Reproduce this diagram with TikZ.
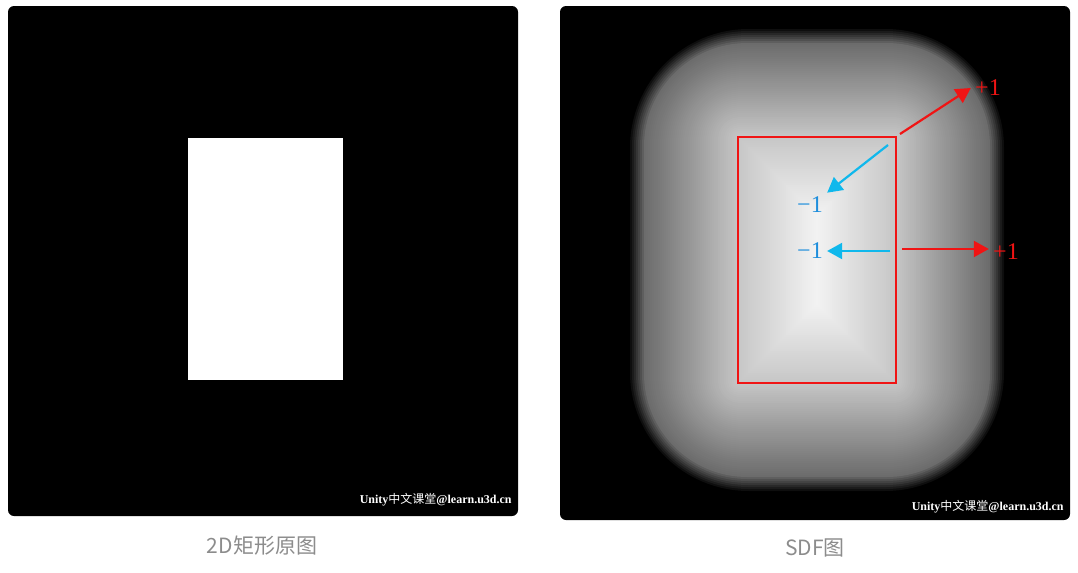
\documentclass[tikz,border=0pt]{standalone}
\usepackage{fontspec}
\setmainfont{Liberation Serif}
\newfontfamily\cjkserif{Noto Sans CJK SC}
\newfontfamily\captionfont{Noto Sans CJK SC}
\usepackage{tikz}
\usetikzlibrary{arrows.meta, positioning, calc}
\definecolor{sdfred}{HTML}{F01414}
\definecolor{sdfcyan}{HTML}{10B8EC}
\definecolor{sdfcyantext}{HTML}{1E8EDC}
\definecolor{capgray}{HTML}{8C8C8C}

\begin{document}
\begin{tikzpicture}[
  x=0.5pt, y=-0.5pt,
  panel/.style={fill=black, rounded corners=3pt},
  watermark/.style={font=\fontsize{6}{7}\selectfont\bfseries, text=white, inner sep=0pt},
  caption/.style={font=\captionfont\fontsize{10.5}{12}\selectfont, text=capgray},
  pluslabel/.style={font=\fontsize{12}{14}\selectfont, text=sdfred, inner sep=2pt},
  minuslabel/.style={font=\fontsize{12}{14}\selectfont, text=sdfcyantext, inner sep=2pt},
  redarrow/.style={-{Triangle[length=7.5pt, width=8pt]}, line width=1.1pt, sdfred},
  cyanarrow/.style={-{Triangle[length=7.5pt, width=8pt]}, line width=1.1pt, sdfcyan}
]
  \useasboundingbox (0,0) rectangle (1078,573);

  % left panel: the plain rectangle
  \fill[panel] (8,6) rectangle (518,516);
  \fill[white] (188,138) rectangle (343,380);
  \node[watermark, anchor=east] (markL) at (512,500) {Unity{\cjkserif\mdseries 中文课堂}@learn.u3d.cn};
  \node[caption] (capL) at (262,546) {2D矩形原图};

  % right panel: distance field
  \fill[panel] (560,6) rectangle (1070,520);
  \foreach \d in {110,108,...,0} {
    \pgfmathsetmacro\p{\d>94 ? 42*(110-\d)/16 : 78-38*\d/100}
    \pgfmathsetmacro\r{\d*0.55}
    \fill[white!\p!black, rounded corners=\r pt] ({738-\d},{137-\d}) rectangle ({896+\d},{383+\d});
  }
  \foreach \i in {0,2,...,78} {
    \pgfmathsetmacro\q{78+17*\i/78}
    \fill[white!\q!black] ({738+\i},{137+\i}) rectangle ({896-\i},{383-\i});
  }
  \draw[sdfred, line width=1pt] (738,137) rectangle (896,383);

  \coordinate (r1) at (900,134);
  \coordinate (c1) at (888,145);
  \coordinate (c2) at (890,251);
  \coordinate (r2) at (902,249);
  \node[pluslabel] (p1) at (988,88) {+1};
  \node[minuslabel] (m1) at (810,205) {−1};
  \node[minuslabel] (m2) at (810,251) {−1};
  \node[pluslabel] (p2) at (1006,252) {+1};

  \draw[redarrow] (r1) -- (p1.west);
  \draw[cyanarrow] (c1) -- (m1.north east);
  \draw[cyanarrow] (c2) -- (m2.east);
  \draw[redarrow] (r2) -- (p2.west |- r2);

  \node[watermark, anchor=east] (markR) at (1064,507) {Unity{\cjkserif\mdseries 中文课堂}@learn.u3d.cn};
  \node[caption] (capR) at (815,548) {SDF图};
\end{tikzpicture}
\end{document}
